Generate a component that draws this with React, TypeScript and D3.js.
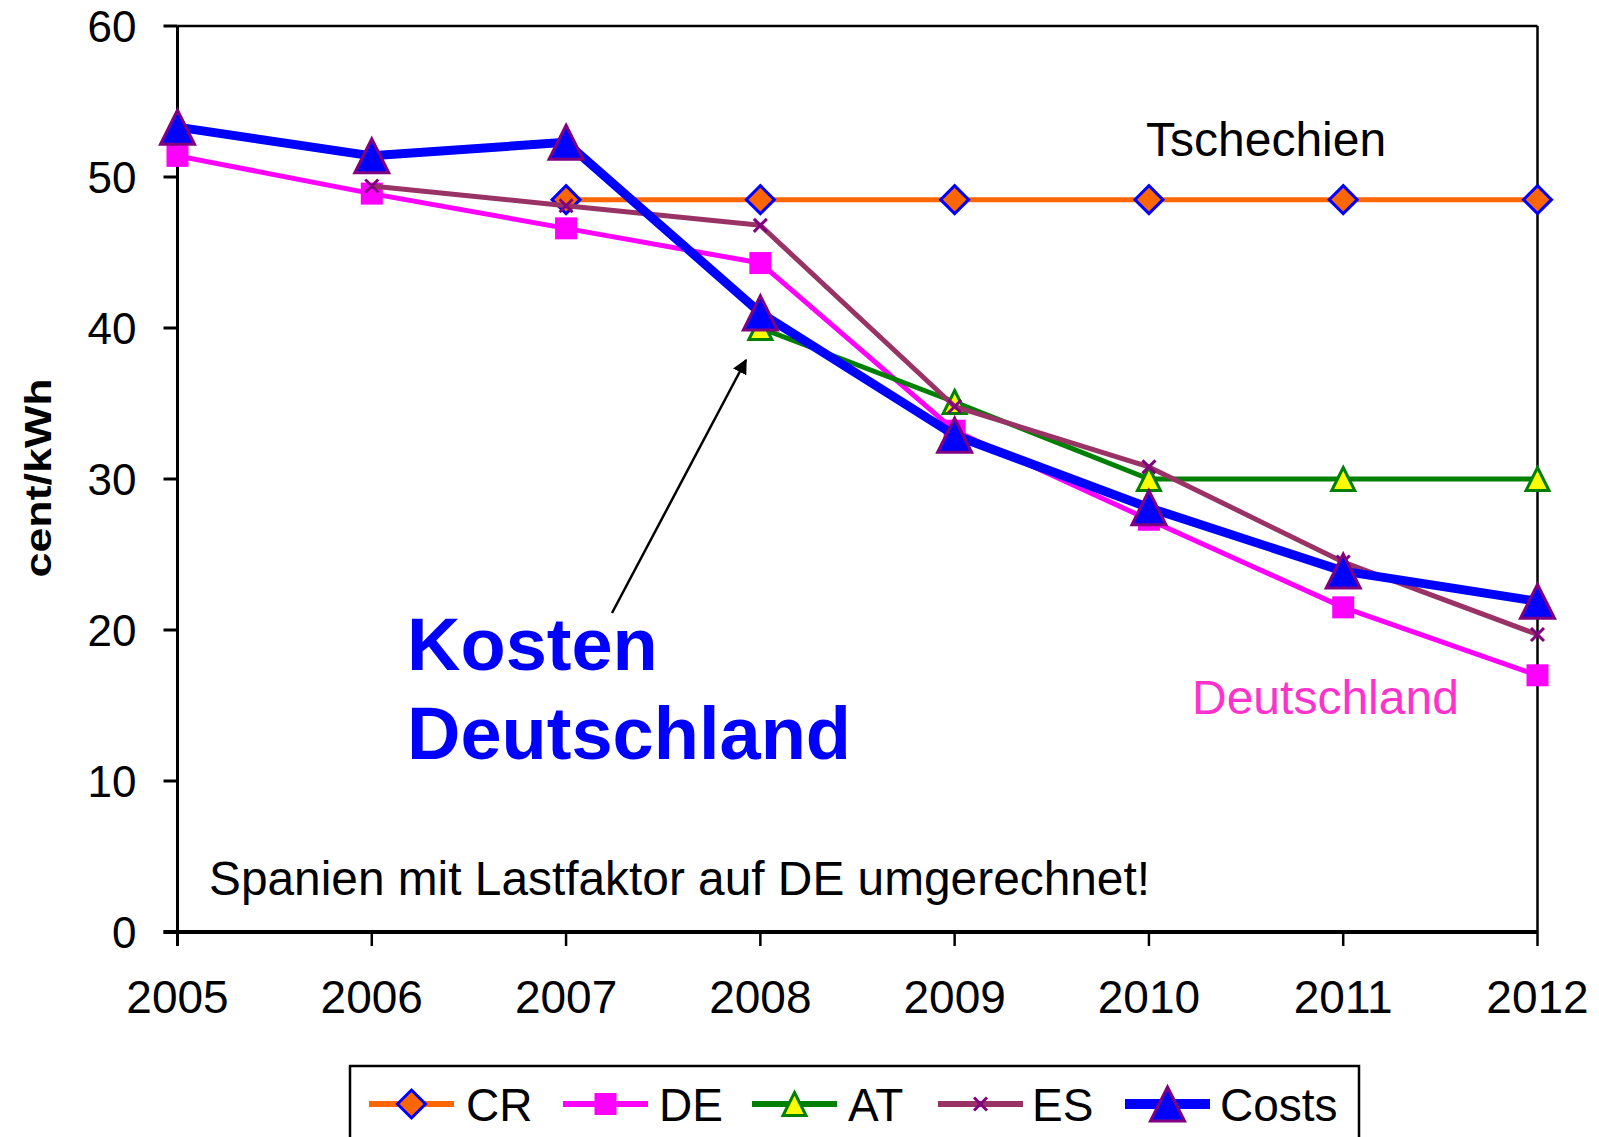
import React from "react";
import * as d3 from "d3";

// values (cent/kWh)
const years = [2005, 2006, 2007, 2008, 2009, 2010, 2011, 2012];
const crValues = [null, null, 48.5, 48.5, 48.5, 48.5, 48.5, 48.5];
const deValues = [51.4, 48.9, 46.6, 44.3, 33.2, 27.3, 21.5, 17.0];
const atValues = [null, null, null, 40.0, 35.1, 30.0, 30.0, 30.0];
const esValues = [null, 49.4, 48.1, 46.8, 34.8, 30.8, 24.5, 19.7];
const costValues = [53.3, 51.4, 52.3, 41.0, 32.9, 28.1, 23.9, 21.9];
const yTicks = [0, 10, 20, 30, 40, 50, 60];

const FONT = "'Liberation Sans', Arial, sans-serif";

type Marker = "diamond" | "square" | "triangle" | "x" | "bigTriangle";

const series: {
  name: string;
  values: (number | null)[];
  color: string;
  width: number;
  marker: Marker;
  fill: string;
  stroke: string;
}[] = [
  { name: "CR", values: crValues, color: "#FF6600", width: 5, marker: "diamond", fill: "#FF6600", stroke: "#0000FF" },
  { name: "DE", values: deValues, color: "#FF00FF", width: 5, marker: "square", fill: "#FF00FF", stroke: "#FF00FF" },
  { name: "AT", values: atValues, color: "#008000", width: 5, marker: "triangle", fill: "#FFFF00", stroke: "#008000" },
  { name: "ES", values: esValues, color: "#993366", width: 5, marker: "x", fill: "none", stroke: "#800080" },
  { name: "Costs", values: costValues, color: "#0000FF", width: 9, marker: "bigTriangle", fill: "#0000FF", stroke: "#800080" },
];

const MarkerShape = ({ type, x, y, fill, stroke }: { type: Marker; x: number; y: number; fill: string; stroke: string }) => {
  if (type === "diamond") {
    const r = 14;
    return (
      <path
        d={`M${x},${y - r}L${x + r},${y}L${x},${y + r}L${x - r},${y}Z`}
        fill={fill}
        stroke={stroke}
        strokeWidth={3}
      />
    );
  }
  if (type === "square") {
    return <rect x={x - 11} y={y - 11} width={22} height={22} fill={fill} />;
  }
  if (type === "triangle" || type === "bigTriangle") {
    const s = type === "triangle" ? 23 : 34;
    return (
      <path
        d={`M${x},${y - s / 2}L${x + s / 2},${y + s / 2}L${x - s / 2},${y + s / 2}Z`}
        fill={fill}
        stroke={stroke}
        strokeWidth={3}
        strokeLinejoin="miter"
      />
    );
  }
  const r = 6.5;
  return (
    <path
      d={`M${x - r},${y - r}L${x + r},${y + r}M${x - r},${y + r}L${x + r},${y - r}`}
      stroke={stroke}
      strokeWidth={3}
      fill="none"
    />
  );
};

const App = () => {
  const width = 1599;
  const height = 1137;
  const left = 177.5;
  const right = 1537.5;
  const top = 26;
  const bottom = 932;

  const x = d3.scaleLinear().domain([2005, 2012]).range([left, right]);
  const y = d3.scaleLinear().domain([0, 60]).range([bottom, top]);

  const line = d3
    .line<[number, number | null]>()
    .defined((d) => d[1] !== null)
    .x((d) => x(d[0]))
    .y((d) => y(d[1] as number));

  // legend layout
  const legendY = 1104;
  const legendItems = [
    { lx: 369, tx: 466 },
    { lx: 563, tx: 659 },
    { lx: 752, tx: 848 },
    { lx: 938, tx: 1032 },
    { lx: 1125, tx: 1220 },
  ];

  return (
    <svg
      width={width}
      height={height}
      style={{ position: "absolute", left: 0, top: 0, background: "#fff" }}
      fontFamily={FONT}
    >
      {/* frame */}
      <line x1={left} x2={right} y1={top} y2={top} stroke="#000" strokeWidth={2.5} />
      <line x1={right} x2={right} y1={top} y2={bottom} stroke="#000" strokeWidth={2.5} />
      <line x1={left} x2={left} y1={top} y2={bottom + 14} stroke="#000" strokeWidth={3} />
      <line x1={left - 14} x2={right} y1={bottom} y2={bottom} stroke="#000" strokeWidth={4} />

      {/* y ticks */}
      {yTicks.map((t) => (
        <g key={t}>
          <line x1={left - 14} x2={left} y1={y(t)} y2={y(t)} stroke="#000" strokeWidth={3} />
          <text x={left - 41} y={y(t)} dy="0.36em" textAnchor="end" fontSize={44}>
            {t}
          </text>
        </g>
      ))}

      {/* x ticks */}
      {years.map((yr) => (
        <g key={yr}>
          <line x1={x(yr)} x2={x(yr)} y1={bottom} y2={bottom + 14} stroke="#000" strokeWidth={2.5} />
          <text x={x(yr)} y={1013} textAnchor="middle" fontSize={46}>
            {yr}
          </text>
        </g>
      ))}

      <text
        transform="translate(51,478) rotate(-90)"
        textAnchor="middle"
        fontSize={36}
        fontWeight="bold"
        textLength={199}
        lengthAdjust="spacingAndGlyphs"
      >
        cent/kWh
      </text>

      {/* series */}
      {series.map((s) => {
        const pts = years.map((yr, i) => [yr, s.values[i]] as [number, number | null]);
        return (
          <g key={s.name}>
            <path d={line(pts) || ""} fill="none" stroke={s.color} strokeWidth={s.width} strokeLinejoin="round" />
            {pts
              .filter((p) => p[1] !== null)
              .map((p) => (
                <MarkerShape
                  key={p[0]}
                  type={s.marker}
                  x={x(p[0])}
                  y={y(p[1] as number)}
                  fill={s.fill}
                  stroke={s.stroke}
                />
              ))}
          </g>
        );
      })}

      {/* annotations */}
      <text x={1146} y={156} fontSize={48}>
        Tschechien
      </text>
      <text x={1192} y={714} fontSize={48} fill="#FF33CC">
        Deutschland
      </text>
      <text x={407} y={670} fontSize={74} fontWeight="bold" fill="#0000FF">
        Kosten
      </text>
      <text x={407} y={759} fontSize={74} fontWeight="bold" fill="#0000FF">
        Deutschland
      </text>
      <text x={209} y={895} fontSize={48} textLength={941} lengthAdjust="spacingAndGlyphs">
        Spanien mit Lastfaktor auf DE umgerechnet!
      </text>

      <defs>
        <marker id="arrowHead" viewBox="0 0 10 10" refX={9} refY={5} markerWidth={6} markerHeight={6} orient="auto">
          <path d="M0,0L10,5L0,10Z" fill="#000" />
        </marker>
      </defs>
      <line x1={612} y1={613} x2={746} y2={360} stroke="#000" strokeWidth={2.5} markerEnd="url(#arrowHead)" />

      {/* legend */}
      <rect x={350} y={1066} width={1009} height={100} fill="#fff" stroke="#000" strokeWidth={2.5} />
      {series.map((s, i) => {
        const it = legendItems[i];
        const lineW = s.name === "Costs" ? 10 : 6;
        return (
          <g key={s.name}>
            <line x1={it.lx} x2={it.lx + 85} y1={legendY} y2={legendY} stroke={s.color} strokeWidth={lineW} />
            <MarkerShape type={s.marker} x={it.lx + 42.5} y={legendY} fill={s.fill} stroke={s.stroke} />
            <text x={it.tx} y={legendY} dy="0.36em" fontSize={46}>
              {s.name}
            </text>
          </g>
        );
      })}
    </svg>
  );
};

export default App;
